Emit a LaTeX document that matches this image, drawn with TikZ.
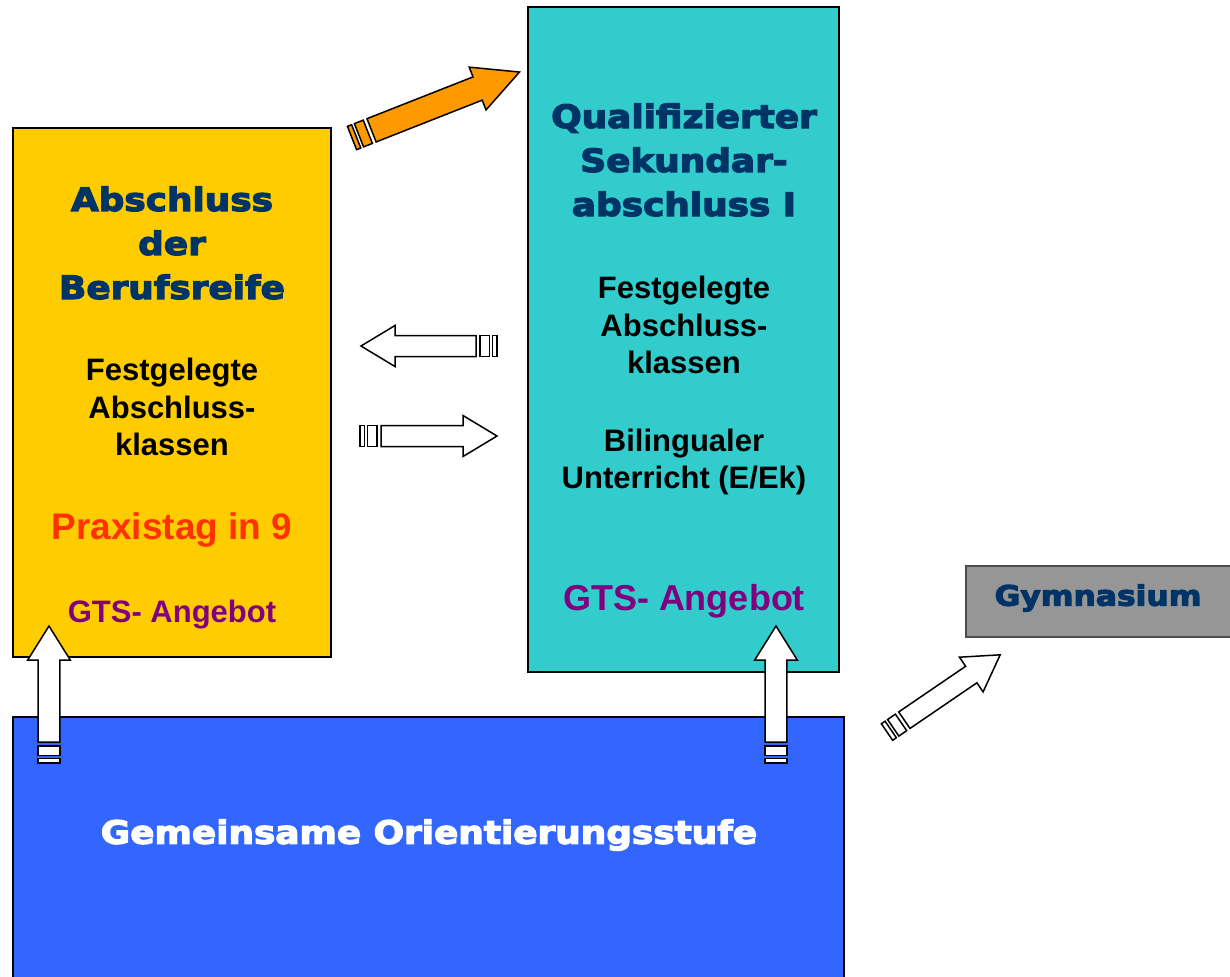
\documentclass[tikz,border=0pt]{standalone}
\usepackage{fontspec}
\setmainfont{Liberation Sans}
\newfontfamily\heavyfont{DejaVu Sans Bold}[FakeStretch=1.12,FakeBold=4]
\usepackage{tikz}
\usetikzlibrary{calc}
\definecolor{bryellow}{HTML}{FFCC00}
\definecolor{brteal}{HTML}{33CCCC}
\definecolor{brblue}{HTML}{3366FF}
\definecolor{brgray}{HTML}{969696}
\definecolor{brnavy}{HTML}{003366}
\definecolor{brorange}{HTML}{FF9900}
\definecolor{brred}{HTML}{FF3300}
\definecolor{brpurple}{HTML}{800080}
\tikzset{
	schoolbox/.style={draw=black, line width=1pt},
	headline/.style={font=\heavyfont\fontsize{16}{22}\selectfont, text=brnavy, align=center},
	plainline/.style={font=\bfseries\fontsize{15.5}{18.75}\selectfont, align=center},
	blockarrow/.style={draw=black, fill=white, line width=0.75pt, line join=miter}
}
\newcommand\stripedarrow[7][]{%
	\begin{scope}[shift={(#2)}, rotate=#3]
		\path[blockarrow, #1] (0,-#5) rectangle (4.5,#5);
		\path[blockarrow, #1] (7.5,-#5) rectangle (17,#5);
		\path[blockarrow, #1] (21,-#5) -- ({#4-#7},-#5) -- ({#4-#7},-#6) -- (#4,0) -- ({#4-#7},#6) -- ({#4-#7},#5) -- (21,#5) -- cycle;
	\end{scope}}

\begin{document}
\begin{tikzpicture}[x=0.5pt, y=-0.5pt]
			%%%%% START %%%%%
			
			\useasboundingbox (0,0) rectangle (1230,976);
			
			\draw[schoolbox, fill=bryellow] (13,128) rectangle (331,657);
			\node[headline] (berufsreife) at (172,243) {Abschluss\\der\\Berufsreife};
			\node[plainline] (klassenA) at (172,407) {Festgelegte\\Abschluss-\\klassen};
			\node[font=\bfseries\fontsize{18.5}{22}\selectfont, text=brred] (praxis) at (172,530) {Praxistag in 9};
			\node[font=\bfseries\fontsize{15.5}{19}\selectfont, text=brpurple] (gtsA) at (172,615) {GTS- Angebot};
			
			\draw[schoolbox, fill=brteal] (528,7) rectangle (839,672);
			\node[headline] (sekundar) at (684,160) {Qualifizierter\\Sekundar-\\abschluss I};
			\node[plainline] (klassenB) at (684,325) {Festgelegte\\Abschluss-\\klassen};
			\node[plainline] (bilingual) at (684,462) {Bilingualer\\Unterricht (E/Ek)};
			\node[font=\bfseries\fontsize{18}{22}\selectfont, text=brpurple] (gtsB) at (684,601) {GTS- Angebot};
			
			\draw[draw=black!70, line width=1pt, fill=brgray] (966,566) rectangle (1232,637);
			\node[font=\heavyfont\fontsize{14}{17}\selectfont, text=brnavy] (gymnasium) at (1098,598) {Gymnasium};
			
			\draw[schoolbox, fill=brblue] (13,717) rectangle (844,990);
			\node[font=\heavyfont\fontsize{16}{20}\selectfont, text=white] (orientierung) at (429,835) {Gemeinsame Orientierungsstufe};
			
			\coordinate (orangetail) at (352,138);
			\coordinate (lefttail) at (497,346);
			\coordinate (righttail) at (360,436);
			\coordinate (uptailA) at (49,763);
			\coordinate (uptailB) at (776,763);
			\coordinate (gymtail) at (887,732);
			
			\stripedarrow[fill=brorange]{orangetail}{21.5}{180}{12.5}{23}{45}
			\stripedarrow{lefttail}{180}{136}{10.5}{20.5}{34}
			\stripedarrow{righttail}{0}{137}{10.5}{20.5}{34}
			\stripedarrow{uptailA}{90}{137}{10.8}{21.3}{34}
			\stripedarrow{uptailB}{90}{137}{10.8}{21.3}{34}
			\stripedarrow{gymtail}{34.3}{137}{10}{21}{35}
			
			%%%%% END %%%%%
\end{tikzpicture}
\end{document}
